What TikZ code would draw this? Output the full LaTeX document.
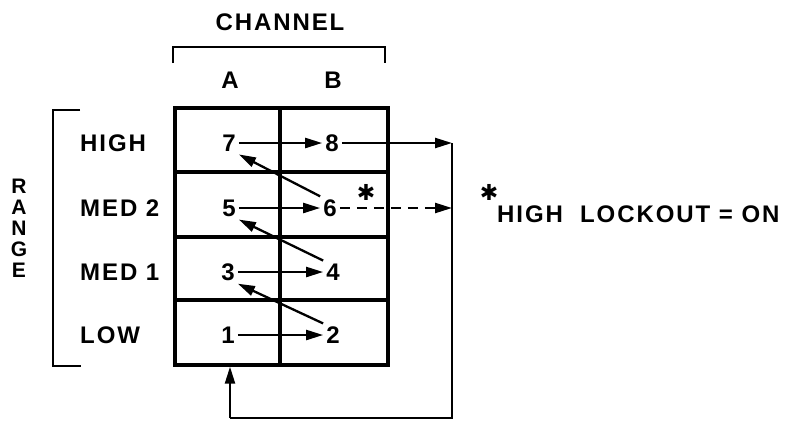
\documentclass[tikz,border=0pt]{standalone}
\usepackage{fontspec}
\setmainfont{Liberation Sans}
\newfontfamily\lett{Liberation Sans}[LetterSpace=8]
\newfontfamily\symf{DejaVu Sans}
\usetikzlibrary{arrows.meta}
\begin{document}
\begin{tikzpicture}[x=1pt,y=-1pt,
  lbl/.style={font=\lett\bfseries\fontsize{24}{24}\selectfont, inner sep=3pt},
  rl/.style={font=\lett\bfseries\fontsize{21}{21}\selectfont, inner sep=0.5pt},
  gridline/.style={line width=3.4pt},
  conn/.style={line width=2.3pt},
  arr/.style={conn,-{Triangle[length=17pt,width=10pt]}},
  brk/.style={line width=2.8pt},
  star/.style={font=\symf\bfseries\fontsize{22}{22}\selectfont, inner sep=0pt}]
\useasboundingbox (0,0) rectangle (797,421);
% grid
\node[draw, gridline, minimum width=213pt, minimum height=257pt, inner sep=0pt] (grid) at (281.5,236.5) {};
\draw[gridline] (grid.north -| 280,0) -- (grid.south -| 280,0);
\draw[gridline] (grid.west |- 0,172) -- (grid.east |- 0,172);
\draw[gridline] (grid.west |- 0,237) -- (grid.east |- 0,237);
\draw[gridline] (grid.west |- 0,300) -- (grid.east |- 0,300);
% channel header
\node[lbl] (chan) at (280,22) {CHANNEL};
\draw[brk] (173,63) -- (173,47) -- (385,47) -- (385,63);
\node[lbl] (chA) at (230,80) {A};
\node[lbl] (chB) at (333,80) {B};
% range
\node[rl] (rR) at (19,186) {R};
\node[rl] (rA) at (19,207) {A};
\node[rl] (rN) at (19,228) {N};
\node[rl] (rG) at (19,249) {G};
\node[rl] (rE) at (19,270) {E};
\draw[brk] (80,110) -- (53,110) -- (53,366) -- (81,366);
\node[lbl, anchor=west] (rHigh) at (77,143) {HIGH};
\node[lbl, anchor=west] (rMed2) at (77,208) {MED 2};
\node[lbl, anchor=west] (rMed1) at (77,272) {MED 1};
\node[lbl, anchor=west] (rLow) at (77,335) {LOW};
% numbers
\node[lbl] (n7) at (229,143) {7};
\node[lbl] (n8) at (332,143) {8};
\node[lbl] (n5) at (229,208) {5};
\node[lbl] (n6) at (330,208) {6};
\node[lbl] (n3) at (228,272) {3};
\node[lbl] (n4) at (333,272) {4};
\node[lbl] (n1) at (228,335) {1};
\node[lbl] (n2) at (333,335) {2};
% coordinates
\coordinate (c8) at (452,143);
\coordinate (c6) at (452,208);
\coordinate (cbr) at (452,418);
\coordinate (cbl) at (230,418);
% arrows
\draw[arr] (n1) -- (n2);
\draw[arr] (n3) -- (n4);
\draw[arr] (n5) -- (n6);
\draw[arr] (n7) -- (n8);
\draw[arr] (n2.north west) -- (n3.south east);
\draw[arr] (n4.north west) -- (n5.south east);
\draw[arr] (n6.north west) -- (n7.south east);
\draw[arr] (n8) -- (c8);
\draw[arr, dash pattern=on 10pt off 7pt] (n6) -- (c6);
\draw[conn] (c8) -- (cbr) -- (cbl);
\draw[arr] (cbl) -- (grid.south -| cbl);
\node[star] (st6) at (366,192) {✱};
% legend
\node[star] (stl) at (489,192) {✱};
\node[lbl, anchor=west] (lock) at (494,214) {HIGH\ \ LOCKOUT = ON};
\end{tikzpicture}
\end{document}
